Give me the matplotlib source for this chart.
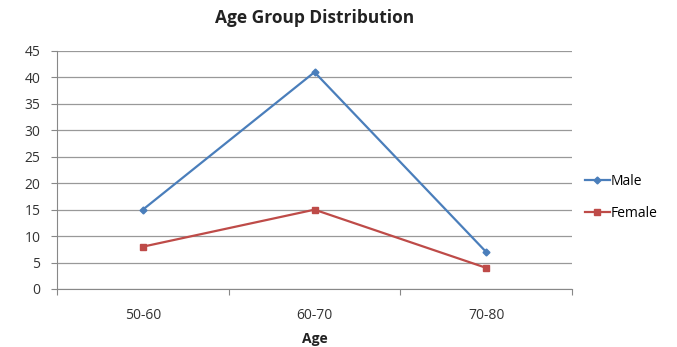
import numpy as np
import matplotlib
matplotlib.use("Agg")
import matplotlib.pyplot as plt

categories = ["50-60", "60-70", "70-80"]
male = [15, 41, 7]
female = [8, 15, 4]

plt.rcParams['font.family'] = ['Open Sans', 'DejaVu Sans']

fig = plt.figure(figsize=(6.77, 3.47), dpi=100)
ax = fig.add_axes([57/677, 1-289/347, (572-57)/677, (289-51)/347])

x = np.arange(len(categories)) + 0.5
ax.plot(x, male, color='#4a7ebb', marker='D', markersize=3.5, linewidth=1.6, label='Male')
ax.plot(x, female, color='#be4b48', marker='s', markersize=4, linewidth=1.6, label='Female')

ax.set_xlim(0, 3)
ax.set_ylim(0, 45)
ax.set_yticks(range(0, 46, 5))
ax.set_xticks([0, 1, 2, 3])
ax.set_xticklabels([])
ax.set_xticks(x, minor=True)
ax.set_xticklabels(categories, minor=True)
ax.tick_params(axis='x', which='minor', length=0, pad=14, labelsize=10, colors='#333333')
ax.tick_params(axis='x', which='major', length=4, color='#888888')
ax.tick_params(axis='y', length=4, color='#888888', labelsize=10, labelcolor='#333333', pad=8)

ax.grid(axis='y', color='#999999', linewidth=0.9)
ax.set_axisbelow(True)
for s in ['top', 'right']:
    ax.spines[s].set_visible(False)
for s in ['left', 'bottom']:
    ax.spines[s].set_color('#888888')

ax.set_title('Age Group Distribution', fontsize=12.5, fontweight='bold', pad=20, color='#222222')
ax.set_xlabel('Age', fontsize=10, fontweight='bold', labelpad=6, color='#222222')

ax.legend(loc='center left', bbox_to_anchor=(1.0, 0.385), frameon=False, fontsize=10,
          handlelength=1.8, handletextpad=0.1, labelspacing=1.2)

fig.savefig('out.png', dpi=100)
